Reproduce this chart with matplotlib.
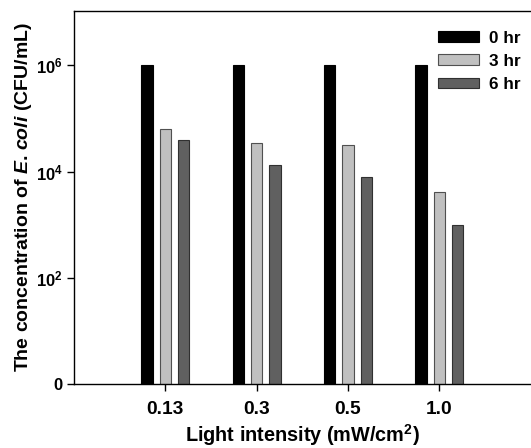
import matplotlib
matplotlib.use('Agg')
import matplotlib.pyplot as plt
import numpy as np

plt.rcParams['font.family'] = 'Liberation Sans'
plt.rcParams['font.weight'] = 'bold'
plt.rcParams['mathtext.fontset'] = 'custom'
plt.rcParams['mathtext.rm'] = 'Liberation Sans:bold'
plt.rcParams['mathtext.bf'] = 'Liberation Sans:bold'
plt.rcParams['mathtext.it'] = 'Liberation Sans:bold:italic'

intensity = ['0.13', '0.3', '0.5', '1.0']
hr0 = [1.0e6, 1.0e6, 1.0e6, 1.0e6]
hr3 = [6.3e4, 3.4e4, 3.2e4, 4.2e3]
hr6 = [4.0e4, 1.3e4, 7.8e3, 1.0e3]

fig = plt.figure(figsize=(5.31, 4.48), dpi=100)
ax = fig.add_axes([74/531, 64/448, 456.7/531, 373/448])

x = np.arange(1, len(intensity) + 1)
w = 0.124
ax.bar(x - 0.2, hr0, w, color='black', edgecolor='black', linewidth=0.8, label='0 hr')
ax.bar(x, hr3, w, color='#c0c0c0', edgecolor='#505050', linewidth=0.8, label='3 hr')
ax.bar(x + 0.2, hr6, w, color='#606060', edgecolor='#303030', linewidth=0.8, label='6 hr')

ax.set_yscale('log')
ax.set_ylim(1, 1.05e7)
ax.set_xlim(0, 5)
ax.set_yticks([1, 1e2, 1e4, 1e6])
ax.set_yticklabels(['0', '$10^2$', '$10^4$', '$10^6$'])
ax.yaxis.set_minor_locator(matplotlib.ticker.NullLocator())
ax.set_xticks(x)
ax.set_xticklabels(intensity)
ax.tick_params(axis='x', labelsize=13.8, length=5, width=1, pad=7)
ax.tick_params(axis='y', labelsize=12, length=5, width=1, pad=3)
ax.spines['right'].set_visible(False)
for s in ['left', 'bottom', 'top']:
    ax.spines[s].set_linewidth(1.0)

ax.set_xlabel('Light intensity (mW/cm$^2$)', fontsize=14.3, fontweight='bold', labelpad=3)
ax.set_ylabel('The concentration of $E$. $coli$ (CFU/mL)', fontsize=14, fontweight='bold', labelpad=1)

ax.legend(loc='upper right', bbox_to_anchor=(1.0, 0.975), frameon=False, fontsize=12.3,
          handlelength=2.4, handleheight=0.6, handletextpad=0.6, labelspacing=0.48,
          borderaxespad=0.2)

fig.savefig('out.png', dpi=100)
